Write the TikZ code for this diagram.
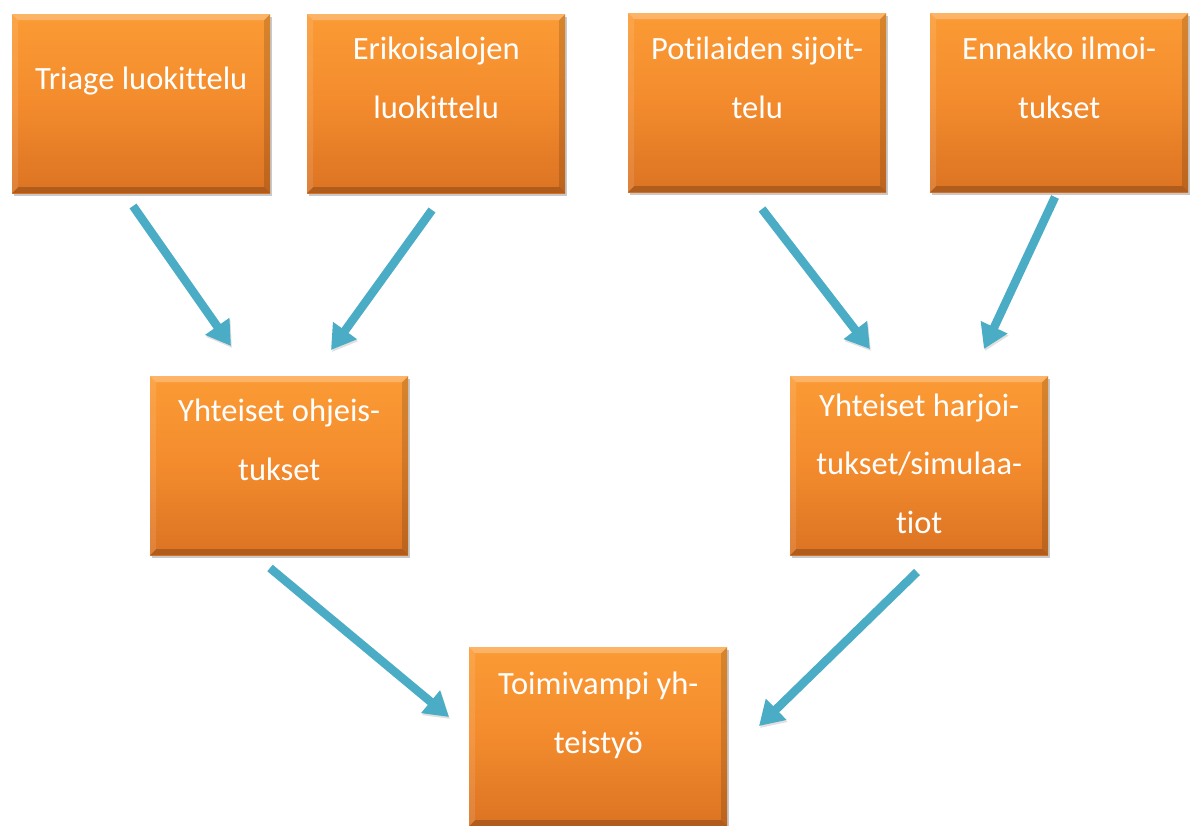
\documentclass[tikz,border=0pt]{standalone}
\usepackage{fontspec}
\setmainfont[Ligatures=NoCommon]{Carlito}
\usetikzlibrary{arrows.meta,shadows}
\definecolor{orTop}{HTML}{FB9B35}
\definecolor{orMid}{HTML}{F38B2D}
\definecolor{orBot}{HTML}{DB7323}
\definecolor{arrowc}{HTML}{4BACC6}
\tikzset{
  obox/.style={rectangle, minimum width=258pt, minimum height=179pt, inner sep=0pt,
    top color=orTop, bottom color=orBot, middle color=orMid,
    drop shadow={shadow xshift=1.5pt, shadow yshift=-3pt, opacity=0.35, fill=black!60},
    path picture={
      \fill[white,opacity=0.25] (path picture bounding box.north west) -- (path picture bounding box.north east)
        -- ([xshift=-6pt,yshift=-6pt]path picture bounding box.north east) -- ([xshift=6pt,yshift=-6pt]path picture bounding box.north west) -- cycle;
      \fill[white,opacity=0.10] (path picture bounding box.north west) -- ([xshift=6pt,yshift=-6pt]path picture bounding box.north west)
        -- ([xshift=6pt,yshift=6pt]path picture bounding box.south west) -- (path picture bounding box.south west) -- cycle;
      \fill[black,opacity=0.14] (path picture bounding box.north east) -- ([xshift=-6pt,yshift=-6pt]path picture bounding box.north east)
        -- ([xshift=-6pt,yshift=6pt]path picture bounding box.south east) -- (path picture bounding box.south east) -- cycle;
      \fill[black,opacity=0.20] (path picture bounding box.south west) -- ([xshift=6pt,yshift=6pt]path picture bounding box.south west)
        -- ([xshift=-6pt,yshift=6pt]path picture bounding box.south east) -- (path picture bounding box.south east) -- cycle;
    }},
  otext/.style={anchor=base, align=center, text=white, font=\fontsize{32.5pt}{58.5pt}\selectfont, inner sep=0pt},
  conn/.style={draw=arrowc, line width=8.5pt, -{Triangle[width=28pt,length=24pt]},
    preaction={draw=black, opacity=0.12, transform canvas={xshift=1pt,yshift=-2pt}}}
}
\begin{document}
\begin{tikzpicture}[x=1pt,y=-1pt]
\useasboundingbox (0,0) rectangle (1191,825);
\fill[white] (0,0) rectangle (1191,825);
% boxes
\node[obox, anchor=north west] (b1) at (12,14) {};
\node[obox, anchor=north west] (b2) at (307,14) {};
\node[obox, anchor=north west] (b3) at (628,13) {};
\node[obox, anchor=north west] (b4) at (930,13) {};
\node[obox, anchor=north west] (b5) at (150,376) {};
\node[obox, anchor=north west] (b6) at (790,376) {};
\node[obox, anchor=north west] (b7) at (469,647) {};
% texts (base anchor = baseline of the last line)
\node[otext] (t1) at ([yshift=-75pt]b1.north) {Triage luokittelu};
\node[otext] (t2) at ([yshift=-104pt]b2.north) {Erikoisalojen\\luokittelu};
\node[otext] (t3) at ([yshift=-105pt]b3.north) {Potilaiden sijoit-\\telu};
\node[otext] (t4) at ([yshift=-105pt]b4.north) {Ennakko ilmoi-\\tukset};
\node[otext] (t5) at ([yshift=-104pt]b5.north) {Yhteiset ohjeis-\\tukset};
\node[otext] (t6) at ([yshift=-157pt]b6.north) {Yhteiset harjoi-\\tukset/simulaa-\\tiot};
\node[otext] (t7) at ([yshift=-106pt]b7.north) {Toimivampi yh-\\teistyö};
% connector end points
\coordinate (a1s) at (133,206); \coordinate (a1e) at (231,346);
\coordinate (a2s) at (432,210); \coordinate (a2e) at (331,350);
\coordinate (a3s) at (762,209); \coordinate (a3e) at (870,349);
\coordinate (a4s) at (1055,197); \coordinate (a4e) at (984,349);
\coordinate (a5s) at (270,568); \coordinate (a5e) at (449,717);
\coordinate (a6s) at (917,572); \coordinate (a6e) at (759,726);
\draw[conn] (a1s) -- (a1e);
\draw[conn] (a2s) -- (a2e);
\draw[conn] (a3s) -- (a3e);
\draw[conn] (a4s) -- (a4e);
\draw[conn] (a5s) -- (a5e);
\draw[conn] (a6s) -- (a6e);
\end{tikzpicture}
\end{document}
